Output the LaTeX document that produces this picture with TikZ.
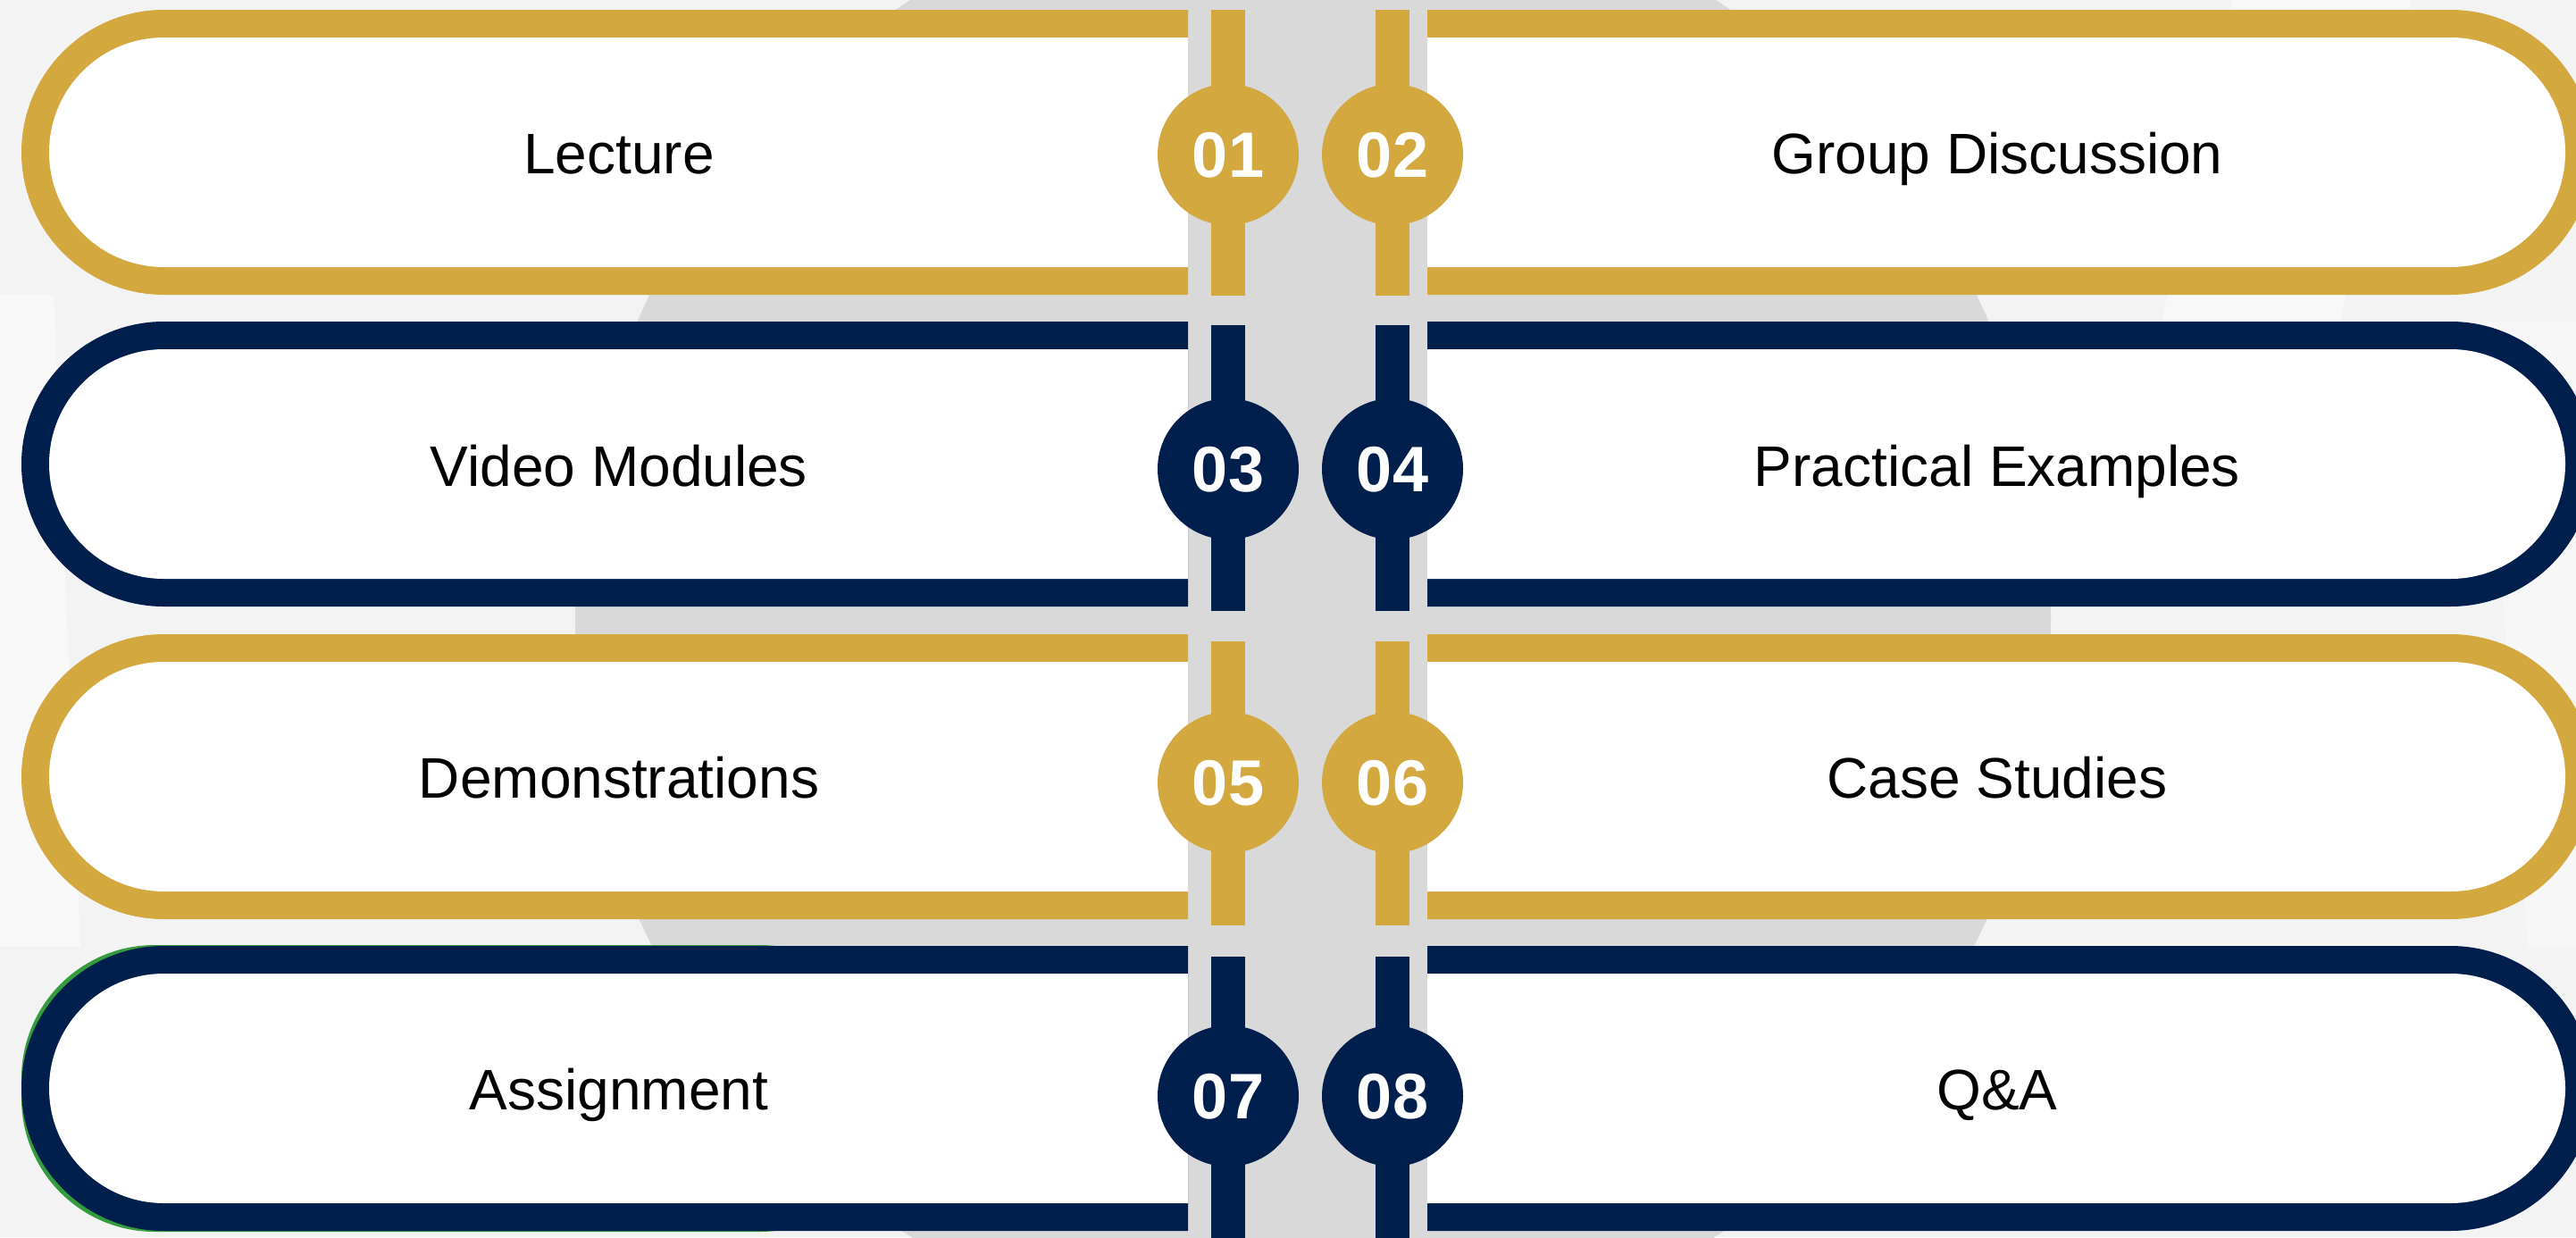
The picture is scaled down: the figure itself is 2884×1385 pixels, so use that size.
\documentclass[tikz,border=0pt]{standalone}
\usepackage{fontspec}
\setmainfont{Liberation Sans}
\definecolor{gold}{RGB}{211,168,63}
\definecolor{navy}{RGB}{0,31,76}
\definecolor{bandgray}{RGB}{217,217,217}
\definecolor{bggray}{RGB}{243,243,243}
\definecolor{edgegreen}{RGB}{52,155,62}

\begin{document}
\begin{tikzpicture}[x=0.75pt,y=0.75pt,yscale=-1,xscale=1,
  numdot/.style={circle,inner sep=0pt,minimum size=118.5pt,text height=38.5pt,text depth=0pt,text=white,font=\fontsize{54pt}{60pt}\selectfont\bfseries},
  lbl/.style={inner sep=0pt,text height=34.4pt,text depth=0pt,text=black,font=\fontsize{48pt}{58pt}\selectfont}]
\useasboundingbox (0,0) rectangle (2884,1385);
\clip (0,0) rectangle (2884,1385);
%background
\fill[bggray] (0,0) rectangle (2884,1385);
\fill[white,opacity=0.45] (0,330) -- (60,330) -- (90,1060) -- (0,1060) -- cycle;
\fill[white,opacity=0.45] (2500,0) -- (2700,0) -- (2620,360) -- (2420,360) -- cycle;
\fill[white,opacity=0.35] (2780,360) -- (2884,360) -- (2884,1060) -- (2830,1060) -- cycle;
\fill[bandgray] (1470,692) circle[radius=826];
%row 1
\fill[gold] (1330,11) -- (183.5,11) arc[start angle=270,end angle=90,radius=159.5] -- (1330,330) -- cycle;
\fill[white] (1330,42) -- (183.5,42) arc[start angle=270,end angle=90,radius=128.5] -- (1330,299) -- cycle;
\fill[gold] (1598,11) -- (2743.5,11) arc[start angle=-90,end angle=90,radius=159.5] -- (1598,330) -- cycle;
\fill[white] (1598,42) -- (2743.5,42) arc[start angle=-90,end angle=90,radius=128.5] -- (1598,299) -- cycle;
%row 2
\fill[navy] (1330,360) -- (183.5,360) arc[start angle=270,end angle=90,radius=159.5] -- (1330,679) -- cycle;
\fill[white] (1330,391) -- (183.5,391) arc[start angle=270,end angle=90,radius=128.5] -- (1330,648) -- cycle;
\fill[navy] (1598,360) -- (2743.5,360) arc[start angle=-90,end angle=90,radius=159.5] -- (1598,679) -- cycle;
\fill[white] (1598,391) -- (2743.5,391) arc[start angle=-90,end angle=90,radius=128.5] -- (1598,648) -- cycle;
%row 3
\fill[gold] (1330,710) -- (183.5,710) arc[start angle=270,end angle=90,radius=159.5] -- (1330,1029) -- cycle;
\fill[white] (1330,741) -- (183.5,741) arc[start angle=270,end angle=90,radius=128.5] -- (1330,998) -- cycle;
\fill[gold] (1598,710) -- (2743.5,710) arc[start angle=-90,end angle=90,radius=159.5] -- (1598,1029) -- cycle;
\fill[white] (1598,741) -- (2743.5,741) arc[start angle=-90,end angle=90,radius=128.5] -- (1598,998) -- cycle;
%row 4
\fill[edgegreen,rounded corners=112pt] (24,1058) rectangle (1000,1379);
\fill[navy] (1330,1059) -- (183.5,1059) arc[start angle=270,end angle=90,radius=159.5] -- (1330,1378) -- cycle;
\fill[white] (1330,1090) -- (183.5,1090) arc[start angle=270,end angle=90,radius=128.5] -- (1330,1347) -- cycle;
\fill[navy] (1598,1059) -- (2743.5,1059) arc[start angle=-90,end angle=90,radius=159.5] -- (1598,1378) -- cycle;
\fill[white] (1598,1090) -- (2743.5,1090) arc[start angle=-90,end angle=90,radius=128.5] -- (1598,1347) -- cycle;
%bars
\fill[gold] (1356,11) rectangle (1394,331);
\fill[gold] (1540,11) rectangle (1578,331);
\fill[navy] (1356,364) rectangle (1394,684);
\fill[navy] (1540,364) rectangle (1578,684);
\fill[gold] (1356,718) rectangle (1394,1036);
\fill[gold] (1540,718) rectangle (1578,1036);
\fill[navy] (1356,1071) rectangle (1394,1391);
\fill[navy] (1540,1071) rectangle (1578,1391);
%numbers
\node[numdot,fill=gold] (n01) at (1375,173) {01};
\node[numdot,fill=gold] (n02) at (1559,173) {02};
\node[numdot,fill=navy] (n03) at (1375,525) {03};
\node[numdot,fill=navy] (n04) at (1559,525) {04};
\node[numdot,fill=gold] (n05) at (1375,876) {05};
\node[numdot,fill=gold] (n06) at (1559,876) {06};
\node[numdot,fill=navy] (n07) at (1375,1227) {07};
\node[numdot,fill=navy] (n08) at (1559,1227) {08};
%labels
\node[lbl] (lecture) at (693,172) {Lecture};
\node[lbl] (group) at (2236,172) {Group Discussion};
\node[lbl] (video) at (693,522) {Video Modules};
\node[lbl] (practical) at (2236,522) {Practical Examples};
\node[lbl] (demo) at (693,871) {Demonstrations};
\node[lbl] (cases) at (2236,871) {Case Studies};
\node[lbl] (assign) at (693,1220) {Assignment};
\node[lbl] (qa) at (2236,1220) {Q\&A};
\end{tikzpicture}
\end{document}
